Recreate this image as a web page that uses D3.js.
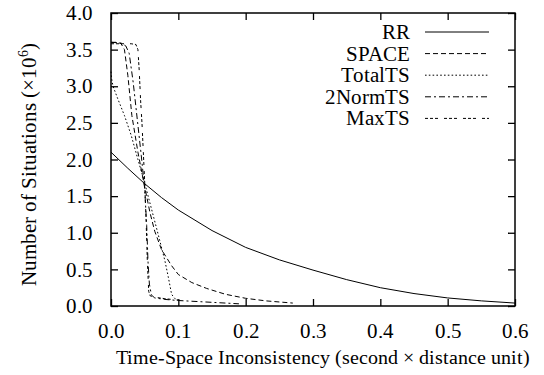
<!DOCTYPE html>
<html>
<head>
<meta charset="utf-8">
<script src="https://cdn.jsdelivr.net/npm/d3@7"></script>
<style>
  @font-face {
    font-family: "PlotSerif";
    src: local("Liberation Serif"), local("LiberationSerif"), local("LiberationSerif-Regular"), local("Times New Roman"), local("FreeSerif");
  }
  body { margin: 0; background: #fff; }
</style>
</head>
<body>
<script>
// values (x = inconsistency, y = situations in millions)
var rrX    = [0, 0.025, 0.05, 0.075, 0.1, 0.15, 0.2, 0.25, 0.3, 0.35, 0.4, 0.45, 0.5, 0.55, 0.6];
var rrY    = [2.10, 1.88, 1.67, 1.48, 1.31, 1.03, 0.80, 0.63, 0.49, 0.36, 0.25, 0.17, 0.11, 0.07, 0.04];
var spaceX = [0, 0.01, 0.015, 0.02, 0.025, 0.031, 0.04, 0.048, 0.058, 0.065, 0.075, 0.09, 0.1, 0.12, 0.142, 0.17, 0.2, 0.23, 0.27];
var spaceY = [3.60, 3.60, 3.58, 3.50, 3.15, 2.60, 2.10, 1.72, 1.27, 1.02, 0.77, 0.55, 0.43, 0.32, 0.24, 0.16, 0.105, 0.07, 0.04];
var totalX = [0, 0.001, 0.003, 0.01, 0.02, 0.03, 0.04, 0.05, 0.06, 0.07, 0.08, 0.085, 0.09, 0.095, 0.1];
var totalY = [3.20, 3.10, 3.00, 2.83, 2.60, 2.33, 2.00, 1.68, 1.33, 0.98, 0.62, 0.40, 0.16, 0.10, 0.08];
var norm2X = [0, 0.015, 0.022, 0.027, 0.033, 0.039, 0.045, 0.05, 0.053, 0.055, 0.057, 0.06, 0.065, 0.08, 0.1, 0.13, 0.16, 0.19];
var norm2Y = [3.60, 3.59, 3.55, 3.45, 3.05, 2.55, 2.05, 1.60, 1.10, 0.60, 0.30, 0.15, 0.11, 0.09, 0.075, 0.06, 0.045, 0.03];
var maxX   = [0, 0.03, 0.037, 0.04, 0.042, 0.044, 0.046, 0.048, 0.05, 0.052, 0.054, 0.056, 0.058, 0.065, 0.08, 0.1];
var maxY   = [3.58, 3.58, 3.57, 3.50, 3.20, 2.80, 2.50, 2.10, 1.70, 1.20, 0.60, 0.20, 0.14, 0.12, 0.10, 0.08];

var names   = ["RR", "SPACE", "TotalTS", "2NormTS", "MaxTS"];
var dashes  = [null, "5,3", "1.6,2.2", "6,3,2,3", "3,2,3,2,3,6"];
var xTicks  = [0, 0.1, 0.2, 0.3, 0.4, 0.5, 0.6];
var yTicks  = [0, 0.5, 1, 1.5, 2, 2.5, 3, 3.5, 4];

const w = 544, h = 375,
      padL = 111, padR = 515, padT = 13, padB = 306,
      tick = 7, fs = 21,
      serif = "PlotSerif, 'Liberation Serif', 'Times New Roman', Times, FreeSerif, serif";

const x = d3.scaleLinear().domain([0, 0.6]).range([padL, padR]);
const y = d3.scaleLinear().domain([0, 4]).range([padB, padT]);

const svg = d3.select("body").append("svg")
    .attr("width", w)
    .attr("height", h);

var series = [[rrX, rrY], [spaceX, spaceY], [totalX, totalY], [norm2X, norm2Y], [maxX, maxY]];

const line = d3.line()
    .x(d => x(d[0]))
    .y(d => y(d[1]));

series.forEach(function(s, i) {
    var pts = s[0].map((v, j) => [v, s[1][j]]);
    svg.append("path")
        .datum(pts)
        .attr("d", line)
        .attr("fill", "none")
        .attr("stroke", "#000")
        .attr("stroke-width", 1)
        .attr("stroke-dasharray", dashes[i]);
});

// axes, ticks pointing inward on all four sides
svg.append("g")
    .attr("transform", "translate(0," + padB + ")")
    .call(d3.axisBottom(x).tickValues(xTicks).tickSizeInner(-tick).tickSizeOuter(0).tickPadding(tick + 10).tickFormat(d3.format(".1f")));
svg.append("g")
    .attr("transform", "translate(0," + padT + ")")
    .call(d3.axisTop(x).tickValues(xTicks).tickSizeInner(-tick).tickSizeOuter(0).tickFormat(""));
svg.append("g")
    .attr("transform", "translate(" + padL + ",0)")
    .call(d3.axisLeft(y).tickValues(yTicks).tickSizeInner(-tick).tickSizeOuter(0).tickPadding(tick + 11).tickFormat(d3.format(".1f")));
svg.append("g")
    .attr("transform", "translate(" + padR + ",0)")
    .call(d3.axisRight(y).tickValues(yTicks).tickSizeInner(-tick).tickSizeOuter(0).tickFormat(""));

svg.selectAll(".domain").remove();
svg.selectAll("g").attr("font-family", null).attr("font-size", null);
svg.selectAll(".tick line").attr("stroke", "#000").attr("stroke-width", 1.3);
svg.selectAll(".tick text")
    .style("font-family", serif)
    .style("font-size", fs + "px")
    .attr("fill", "#000");

svg.append("rect")
    .attr("x", padL)
    .attr("y", padT)
    .attr("width", padR - padL)
    .attr("height", padB - padT)
    .attr("fill", "none")
    .attr("stroke", "#000")
    .attr("stroke-width", 1.5);

// legend
names.forEach(function(n, i) {
    var ly = 32 + i * 21.6;
    svg.append("text")
        .text(n)
        .attr("x", 410)
        .attr("y", ly + 7)
        .attr("text-anchor", "end")
        .style("font-family", serif)
        .style("font-size", "20.5px");
    svg.append("line")
        .attr("x1", 425).attr("x2", 489)
        .attr("y1", ly).attr("y2", ly)
        .attr("stroke", "#000")
        .attr("stroke-width", 1)
        .attr("stroke-dasharray", dashes[i]);
});

svg.append("text")
    .text("Time-Space Inconsistency (second \u00d7 distance unit)")
    .attr("x", 323)
    .attr("y", 364)
    .attr("text-anchor", "middle")
    .style("font-family", serif)
    .style("font-size", "20.3px");

const ylab = svg.append("text")
    .attr("transform", "translate(36,164)rotate(-90)")
    .attr("text-anchor", "middle")
    .style("font-family", serif)
    .style("font-size", fs + "px");
ylab.append("tspan").text("Number of Situations (\u00d710");
ylab.append("tspan").text("6").style("font-size", "14px").attr("dy", -8);
ylab.append("tspan").text(")").attr("dy", 8);
</script>
</body>
</html>
